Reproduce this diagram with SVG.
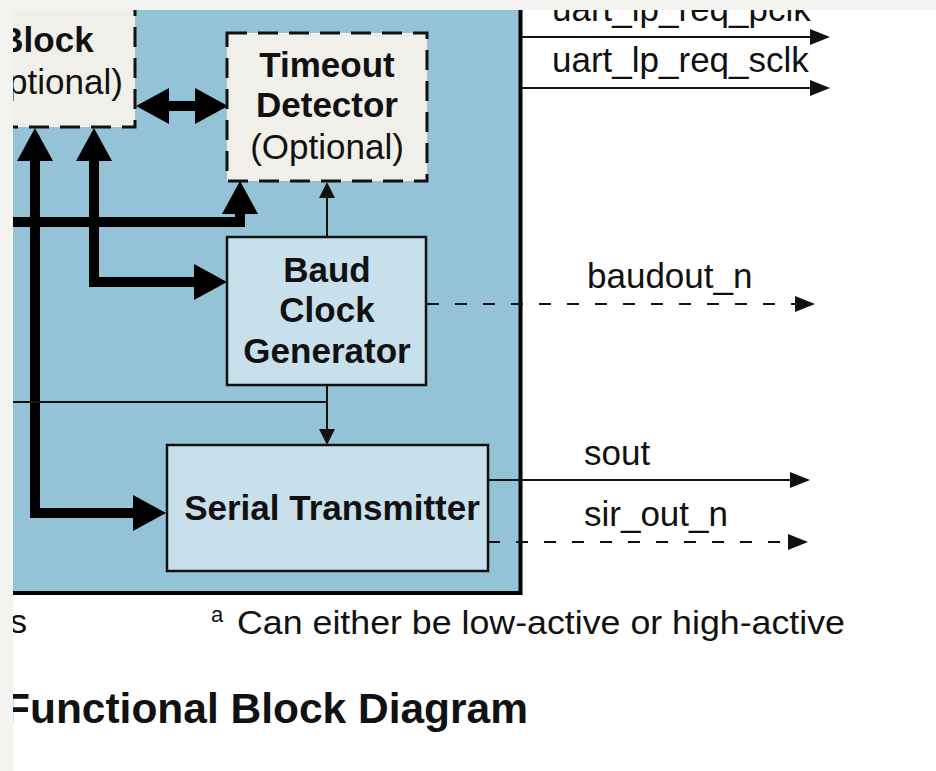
<svg xmlns="http://www.w3.org/2000/svg" width="936" height="771" viewBox="0 0 936 771">
<defs>
<style>
.t{font-family:"Liberation Sans",Arial,Helvetica,sans-serif;fill:#111;}
.b{font-weight:bold;font-size:35px;}
.r{font-size:35px;}
.dashbox{fill:#f1efe9;stroke:#111;stroke-width:3;stroke-dasharray:20 11;}
.solidbox{fill:#c8e0ec;stroke:#111;stroke-width:2.5;}
.thick{fill:none;stroke:#000;stroke-width:10;stroke-linejoin:miter;}
.thin{fill:none;stroke:#111;stroke-width:2;}
.dash{fill:none;stroke:#111;stroke-width:2;stroke-dasharray:12 16;}
</style>
<marker id="big" markerUnits="userSpaceOnUse" viewBox="0 0 33 36" markerWidth="33" markerHeight="36" refX="1" refY="18" orient="auto-start-reverse">
<path d="M0,0 L33,18 L0,36 Z" fill="#000"/>
</marker>
<marker id="small" markerUnits="userSpaceOnUse" viewBox="0 0 16 16" markerWidth="16" markerHeight="16" refX="1" refY="8" orient="auto">
<path d="M0,0 L16,8 L0,16 Z" fill="#111"/>
</marker>
<marker id="out" markerUnits="userSpaceOnUse" viewBox="0 0 20 16" markerWidth="20" markerHeight="16" refX="1" refY="8" orient="auto">
<path d="M0,0 L20,8 L0,16 Z" fill="#111"/>
</marker>
</defs>
<rect x="0" y="0" width="936" height="771" fill="#ffffff"/>
<rect id="uart-block" x="-10" y="-10" width="530.5" height="603" fill="#94c3d7" stroke="#000" stroke-width="4"/>

<g id="node-sync-block">
<rect class="dashbox" x="-35" y="-20" width="170" height="147"/>
<text class="t b" x="46" y="52" text-anchor="middle">Block</text>
<text class="t r" x="46" y="94" text-anchor="middle">(Optional)</text>
</g>

<g id="node-timeout-detector">
<rect class="dashbox" x="227" y="33" width="200" height="148"/>
<text class="t b" x="327" y="77" text-anchor="middle">Timeout</text>
<text class="t b" x="327" y="117" text-anchor="middle">Detector</text>
<text class="t r" x="327" y="159" text-anchor="middle">(Optional)</text>
</g>

<g id="node-baud-clock-generator">
<rect class="solidbox" x="227" y="237" width="199" height="148"/>
<text class="t b" x="327" y="282" text-anchor="middle">Baud</text>
<text class="t b" x="327" y="322" text-anchor="middle">Clock</text>
<text class="t b" x="327" y="363" text-anchor="middle">Generator</text>
</g>

<g id="node-serial-transmitter">
<rect class="solidbox" x="167" y="445" width="321" height="126"/>
<text class="t b" x="332" y="520" text-anchor="middle">Serial Transmitter</text>
</g>

<g id="connectors">
<path class="thick" d="M168,106 H196" marker-start="url(#big)" marker-end="url(#big)"/>
<path class="thick" d="M134,513 H35 V160" marker-start="url(#big)" marker-end="url(#big)"/>
<path class="thick" d="M195,282 H94 V160" marker-start="url(#big)" marker-end="url(#big)"/>
<path class="thick" d="M0,222 H240 V213" marker-end="url(#big)"/>
<path class="thin" d="M327,237 V197" marker-end="url(#small)"/>
<path class="thin" d="M0,402 H327"/>
<path class="thin" d="M327,385 V430" marker-end="url(#small)"/>
<path class="thin" d="M521,37 H811" marker-end="url(#out)"/>
<path class="thin" d="M521,88 H811" marker-end="url(#out)"/>
<path class="dash" d="M427,304 H796" marker-end="url(#out)"/>
<path class="thin" d="M488,480 H791" marker-end="url(#out)"/>
<path class="dash" d="M488,542 H789" marker-end="url(#out)"/>
</g>

<g id="labels">
<text class="t r" x="552" y="21">uart_lp_req_pclk</text>
<text class="t r" x="552" y="72">uart_lp_req_sclk</text>
<text class="t r" x="587" y="288">baudout_n</text>
<text class="t r" x="584" y="465">sout</text>
<text class="t r" x="584" y="526">sir_out_n</text>
<text class="t" x="10" y="633" font-size="34">s</text>
<text class="t" x="211" y="622" font-size="22">a</text>
<text class="t" x="237" y="634" font-size="33" textLength="608" lengthAdjust="spacingAndGlyphs">Can either be low-active or high-active</text>
<text class="t" x="4" y="723" font-size="42" font-weight="bold" textLength="524" lengthAdjust="spacingAndGlyphs">Functional Block Diagram</text>
</g>

<rect x="0" y="0" width="936" height="10" fill="#f3f3ef"/>
<rect x="0" y="0" width="13" height="771" fill="#f3f3ef"/>
</svg>
